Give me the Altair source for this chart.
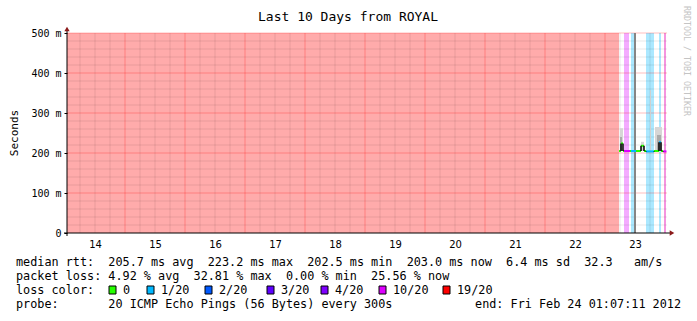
import altair as alt
import pandas as pd

# ---------------- data ----------------
title_text = "Last 10 Days from ROYAL"
watermark = "RRDTOOL / TOBI OETIKER"
y_title = "Seconds"

y_ticks = [0, 0.1, 0.2, 0.3, 0.4, 0.5]
x_label_days = [14, 15, 16, 17, 18, 19, 20, 21, 22, 23]
x_domain = [14.0333, 24.0333]   # day-of-month + fraction of day

loss_names = ["0", "1/20", "2/20", "3/20", "4/20", "10/20", "19/20"]
loss_colors = ["#26ff00", "#00b8ff", "#0059ff", "#5e00ff", "#7e00ff", "#dd00ff", "#ff0000"]

# loss background bands
band_start = [14.0333, 23.3167, 23.4333, 23.6833, 23.9000, 23.9833]
band_end = [23.2333, 23.4000, 23.4833, 23.8167, 23.9333, 24.0167]
band_loss = ["19/20", "10/20", "1/20", "1/20", "1/20", "10/20"]

# median rtt (seconds) per step segment
med_start = [23.2333, 23.2667, 23.3000, 23.3167, 23.4167, 23.4333, 23.5167,
             23.6000, 23.6500, 23.6833, 23.8167, 23.9000, 23.9333, 23.9667]
med_end = [23.2667, 23.3000, 23.3167, 23.4167, 23.4333, 23.5167, 23.6000,
           23.6500, 23.6833, 23.8167, 23.9000, 23.9333, 23.9667, 24.0250]
med_value = [0.205, 0.224, 0.205, 0.205, 0.205, 0.205, 0.205,
             0.218, 0.205, 0.204, 0.205, 0.227, 0.205, 0.204]
med_loss = ["0", "0", "0", "10/20", "0", "1/20", "0",
            "0", "0", "1/20", "0", "1/20", "0", "10/20"]

# smoke (ping spread above median)
smoke_start = [23.2500, 23.6000, 23.7500, 23.8333, 23.2500, 23.8667, 23.4833]
smoke_end = [23.3000, 23.6500, 23.7667, 23.9500, 23.2833, 23.9333, 23.5167]
smoke_bottom = [0.205, 0.205, 0.204, 0.205, 0.205, 0.205, 0.0]
smoke_top = [0.262, 0.228, 0.357, 0.265, 0.240, 0.245, 0.5]
smoke_shade = ["#d6d6d6", "#d6d6d6", "#d0d0d0", "#d6d6d6", "#aaaaaa", "#aaaaaa", "#858585"]

rtt_stats = {"avg": 205.7, "max": 223.2, "min": 202.5, "now": 203.0, "sd": 6.4, "ams": 32.3}
loss_stats = {"avg": 4.92, "max": 32.81, "min": 0.00, "now": 25.56}
probe_text = "20 ICMP Echo Pings (56 Bytes) every 300s"
end_text = "end: Fri Feb 24 01:07:11 2012"

# ---------------- layout constants ----------------
L, T = 67, 33          # plot origin in page pixels
W, H = 600, 200
MONO = "DejaVu Sans Mono"
TXT = 11.8
legend_box_x = [109, 147, 205, 267, 321, 379, 443]

color_of = dict(zip(loss_names, loss_colors))
xs = alt.Scale(domain=x_domain, nice=False, zero=False)
ys = alt.Scale(domain=[0, 0.5], nice=False, zero=True)

X_AXIS = alt.Axis(
    values=[d + 0.5 for d in x_label_days], labelExpr="floor(datum.value)",
    ticks=False, domain=False, grid=False, title=None,
    labelFont="DejaVu Sans", labelFontSize=10, labelColor="black",
    labelPadding=6)
Y_AXIS = alt.Axis(
    values=y_ticks,
    labelExpr="datum.value == 0 ? '0' : format(datum.value * 1000, 'd') + '\u00a0m'",
    tickSize=3, tickColor="black", domain=False, grid=False, title=None,
    labelFont=MONO, labelFontSize=10, labelColor="black", labelPadding=3)


def nb(s):
    return s.replace(" ", "\u00a0")


def text_layer(s, X, Y, size=TXT, align="left", font=MONO, color="black", angle=0):
    return alt.Chart(pd.DataFrame({"t": [nb(s)]})).mark_text(
        align=align, baseline="middle", font=font, fontSize=size, color=color, angle=angle
    ).encode(x=alt.value(X - L), y=alt.value(Y - T), text="t:N")


bands = pd.DataFrame({"s": band_start, "e": band_end,
                      "c": [color_of[k] for k in band_loss]})
band_layer = alt.Chart(bands).mark_rect(opacity=0.33).encode(
    x=alt.X("s:Q", scale=xs, axis=X_AXIS), x2="e:Q",
    y=alt.value(0), y2=alt.value(H),
    color=alt.Color("c:N", scale=None))

# grid
minor_v = [14 + i * 0.25 for i in range(1, 41) if i % 4 != 0]
major_v = [15 + i for i in range(10)]
minor_h = [round(i * 0.02, 2) for i in range(1, 26) if i % 5 != 0]
major_h = [0.1, 0.2, 0.3, 0.4, 0.5]

gv_minor = alt.Chart(pd.DataFrame({"v": minor_v})).mark_rule(
    color="#000000", opacity=0.09, strokeWidth=1).encode(
    x=alt.X("v:Q", scale=xs, axis=X_AXIS), y=alt.value(0), y2=alt.value(H))
gh_minor = alt.Chart(pd.DataFrame({"v": minor_h})).mark_rule(
    color="#000000", opacity=0.09, strokeWidth=1).encode(
    y=alt.Y("v:Q", scale=ys, axis=Y_AXIS), x=alt.value(0), x2=alt.value(W))
gv_major = alt.Chart(pd.DataFrame({"v": major_v})).mark_rule(
    color="#ff0000", opacity=0.25, strokeWidth=1).encode(
    x=alt.X("v:Q", scale=xs, axis=X_AXIS), y=alt.value(0), y2=alt.value(H))
gh_major = alt.Chart(pd.DataFrame({"v": major_h})).mark_rule(
    color="#ff0000", opacity=0.25, strokeWidth=1).encode(
    y=alt.Y("v:Q", scale=ys, axis=Y_AXIS), x=alt.value(0), x2=alt.value(W))

smoke = pd.DataFrame({"s": smoke_start, "e": smoke_end, "b": smoke_bottom,
                      "t": smoke_top, "c": smoke_shade})
smoke_layer = alt.Chart(smoke).mark_rect().encode(
    x=alt.X("s:Q", scale=xs, axis=X_AXIS), x2="e:Q",
    y=alt.Y("b:Q", scale=ys, axis=Y_AXIS), y2="t:Q",
    color=alt.Color("c:N", scale=None))

med = pd.DataFrame({"s": med_start, "e": med_end, "v": med_value,
                    "c": [color_of[k] for k in med_loss]})
med["prev"] = med["v"].shift(1)
trans = med[(med["prev"].notna()) & (med["prev"] != med["v"])]

trans_layer = alt.Chart(trans).mark_rule(color="black", strokeWidth=1.5).encode(
    x=alt.X("s:Q", scale=xs, axis=X_AXIS),
    y=alt.Y("prev:Q", scale=ys, axis=Y_AXIS), y2="v:Q")

med_layer = alt.Chart(med).mark_rule(strokeWidth=2).encode(
    x=alt.X("s:Q", scale=xs, axis=X_AXIS), x2="e:Q",
    y=alt.Y("v:Q", scale=ys, axis=Y_AXIS),
    color=alt.Color("c:N", scale=None))

# axis lines and arrows
axis_df = pd.DataFrame({"k": [0]})
yaxis_line = alt.Chart(axis_df).mark_rule(color="black", strokeWidth=1).encode(
    x=alt.value(0), y=alt.value(-4), y2=alt.value(H + 3))
xaxis_line = alt.Chart(axis_df).mark_rule(color="black", strokeWidth=1).encode(
    x=alt.value(-3), x2=alt.value(W + 5), y=alt.value(H))
arrow_up = alt.Chart(axis_df).mark_point(
    shape="triangle-up", filled=True, color="#8b1a1a", size=28, opacity=1).encode(
    x=alt.value(0), y=alt.value(-4))
arrow_right = alt.Chart(axis_df).mark_point(
    shape="triangle-right", filled=True, color="#8b1a1a", size=28, opacity=1).encode(
    x=alt.value(W + 5), y=alt.value(H))

# legend boxes
leg = pd.DataFrame({"name": loss_names, "c": loss_colors,
                    "bx": [b - L for b in legend_box_x]})
leg["bx2"] = leg["bx"] + 7
leg["tx"] = leg["bx"] + 14
leg["label"] = leg["name"]
leg_boxes = alt.Chart(leg).mark_rect(stroke="black", strokeWidth=1).encode(
    x=alt.X("bx:Q", scale=None), x2="bx2:Q",
    y=alt.value(290 - T - 4), y2=alt.value(290 - T + 4),
    color=alt.Color("c:N", scale=None))
leg_text = alt.Chart(leg).mark_text(
    align="left", baseline="middle", font=MONO, fontSize=TXT, color="black").encode(
    x=alt.X("tx:Q", scale=None), y=alt.value(290 - T), text="label:N")

line1 = (f"median rtt:  {rtt_stats['avg']:.1f} ms avg  {rtt_stats['max']:.1f} ms max  "
         f"{rtt_stats['min']:.1f} ms min  {rtt_stats['now']:.1f} ms now  "
         f"{rtt_stats['sd']:.1f} ms sd  {rtt_stats['ams']:.1f}   am/s")
line2 = (f"packet loss: {loss_stats['avg']:.2f} % avg  {loss_stats['max']:.2f} % max  "
         f"{loss_stats['min']:.2f} % min  {loss_stats['now']:.2f} % now")
line3 = "loss color:"
line4 = f"probe:       {probe_text}"

texts = [
    text_layer(title_text, 348, 17, size=13, align="center"),
    text_layer(watermark, 686, 61, size=8.3, align="center", color="#c4c4c4", angle=90),
    text_layer(y_title, 15, 133, size=11, align="center", angle=270),
    text_layer(line1, 16, 262),
    text_layer(line2, 16, 276),
    text_layer(line3, 16, 290),
    text_layer(line4, 16, 304),
    text_layer(end_text, 681, 304, align="right"),
]

chart = alt.layer(
    band_layer, gv_minor, gh_minor, gv_major, gh_major, smoke_layer,
    med_layer, trans_layer, yaxis_line, xaxis_line, arrow_up, arrow_right,
    leg_boxes, leg_text, *texts
).properties(
    width=W, height=H,
    padding={"left": L, "top": T, "right": 697 - L - W, "bottom": 321 - T - H},
    autosize=alt.AutoSizeParams(type="none"),
    background="white",
).configure_view(stroke=None)

chart.save("out.html", embed_options={"renderer": "svg", "actions": False})
